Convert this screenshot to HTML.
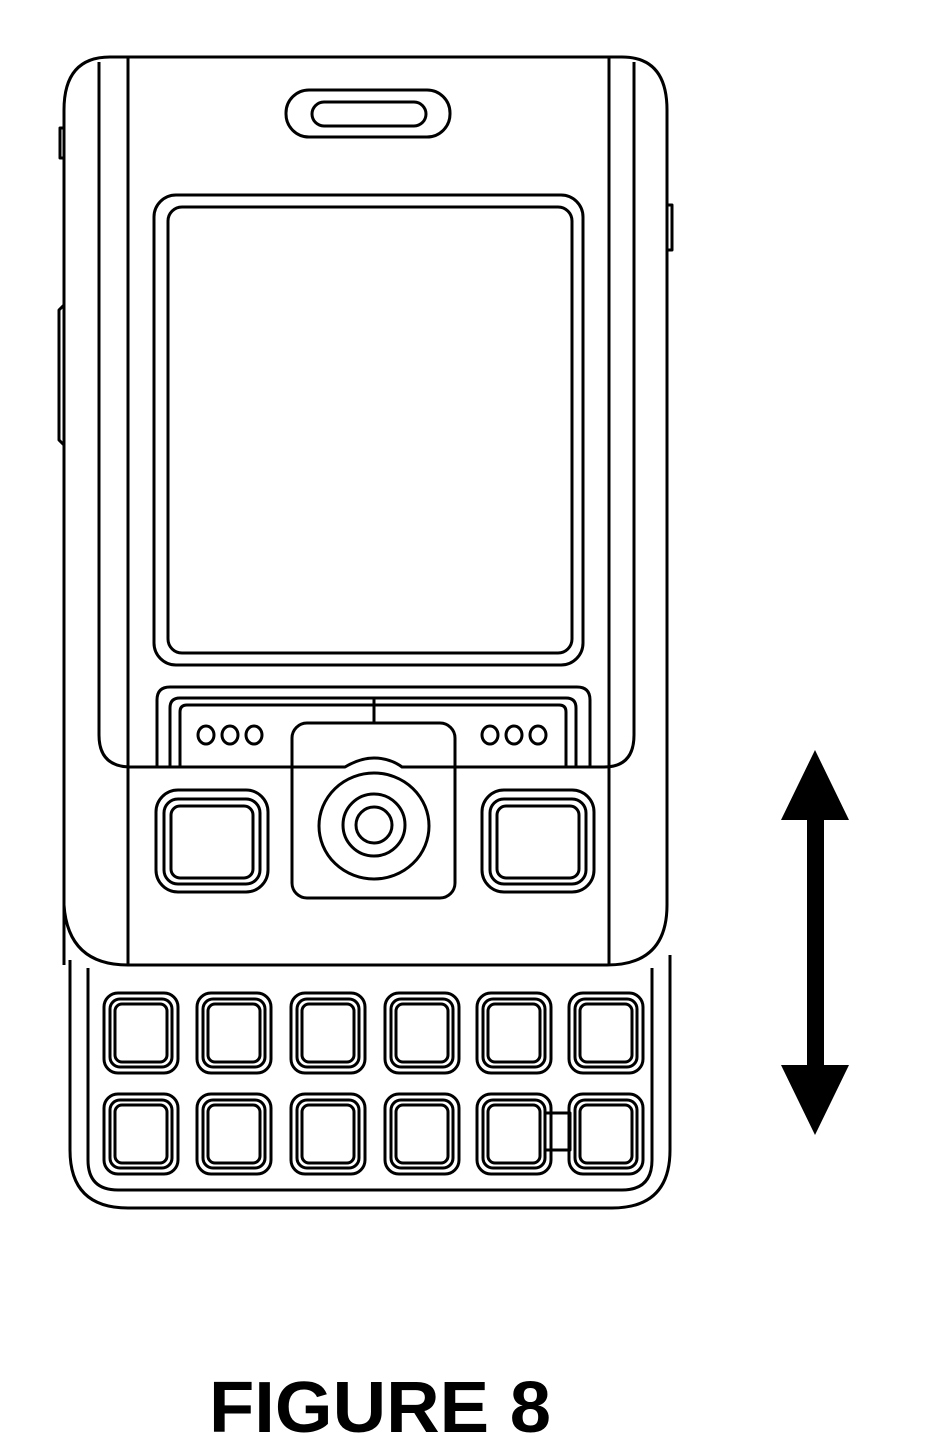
<!DOCTYPE html>
<html><head><meta charset="utf-8"><style>
html,body{margin:0;padding:0;background:#fff;width:940px;height:1453px;overflow:hidden}
svg{display:block}
</style></head><body>
<svg width="940" height="1453" viewBox="0 0 940 1453">
<g fill="none" stroke="#000" stroke-width="3" stroke-linejoin="round">
  <path d="M70 960 L70 1150 Q70 1208 128 1208 L612 1208 Q670 1208 670 1150 L670 955"/>
  <path d="M88 968 L88 1160 Q88 1190 118 1190 L622 1190 Q652 1190 652 1160 L652 968"/>
  <path d="M64 965 L64 110 Q64 57 110 57 L622 57 Q667 57 667 110 L667 905 Q667 965 607 965 L128 965 Q68 965 64 905"/>
  <path d="M99 62 L99 735 Q99 767 131 767 L604 767 Q634 767 634 735 L634 62"/>
  <line x1="128" y1="58" x2="128" y2="965"/>
  <line x1="609" y1="58" x2="609" y2="965"/>
  <rect x="286" y="90" width="164" height="47" rx="23"/>
  <rect x="312" y="102" width="114" height="24" rx="12"/>
  <rect x="154" y="195" width="429" height="470" rx="22"/>
  <rect x="168" y="207" width="404" height="446" rx="14"/>
  <path d="M157 767 L157 700 Q157 687 170 687 L577 687 Q590 687 590 700 L590 767"/>
  <path d="M170 767 L170 708 Q170 698 180 698 L566 698 Q576 698 576 708 L576 767"/>
  <path d="M180 767 L180 712 Q180 705 187 705 L559 705 Q566 705 566 712 L566 767"/>
  <line x1="374" y1="698" x2="374" y2="723"/>
  <ellipse cx="206" cy="735" rx="8" ry="9"/>
  <ellipse cx="230" cy="735" rx="8" ry="9"/>
  <ellipse cx="254" cy="735" rx="8" ry="9"/>
  <ellipse cx="490" cy="735" rx="8" ry="9"/>
  <ellipse cx="514" cy="735" rx="8" ry="9"/>
  <ellipse cx="538" cy="735" rx="8" ry="9"/>
  <rect x="292" y="723" width="163" height="175" rx="15" fill="#fff"/>
  <path d="M292 767 L345 767 Q360 758 374 758 Q390 758 402 767 L455 767"/>
  <ellipse cx="374" cy="826" rx="55" ry="53"/>
  <circle cx="374" cy="825" r="31"/>
  <circle cx="374" cy="825" r="18"/>
  <rect x="156" y="790" width="112" height="102" rx="22"/>
  <rect x="164" y="799" width="96" height="85" rx="14"/>
  <rect x="171" y="806" width="82" height="72" rx="9"/>
  <rect x="482" y="790" width="112" height="102" rx="22"/>
  <rect x="490" y="799" width="96" height="85" rx="14"/>
  <rect x="497" y="806" width="82" height="72" rx="9"/>
  <path d="M64 128 L60 128 L60 158 L64 158"/>
  <path d="M64 305 L59 310 L59 440 L64 445"/>
  <path d="M667 205 L672 205 L672 250 L667 250"/>
  <rect x="545" y="1113" width="25" height="37"/>
</g>
<g id="keys" fill="none" stroke="#000" stroke-width="3"></g>
<g>
  <rect x="807" y="805" width="17" height="275" fill="#000"/>
  <polygon points="815,750 849,820 781,820" fill="#000"/>
  <polygon points="815,1135 849,1065 781,1065" fill="#000"/>
</g>
<text x="380" y="1432" text-anchor="middle" font-family="Liberation Sans, Arial, sans-serif" font-weight="bold" font-size="72" textLength="342" lengthAdjust="spacingAndGlyphs">FIGURE 8</text>
</svg>
<script>
const colStarts=[104,197,291,385,477,569];
const rowStarts=[993,1094];
const g=document.getElementById('keys');
const NS='http://www.w3.org/2000/svg';
rowStarts.forEach((y)=>{colStarts.forEach((x)=>{
  [[0,14],[6,10],[11,7]].forEach((o,k)=>{
    const r=document.createElementNS(NS,'rect');
    r.setAttribute('x',x+o[0]);r.setAttribute('y',y+o[0]);
    r.setAttribute('width',74-2*o[0]);r.setAttribute('height',80-2*o[0]);
    r.setAttribute('rx',o[1]);
    
    
    g.appendChild(r);
  });
});});
</script>
</body></html>
